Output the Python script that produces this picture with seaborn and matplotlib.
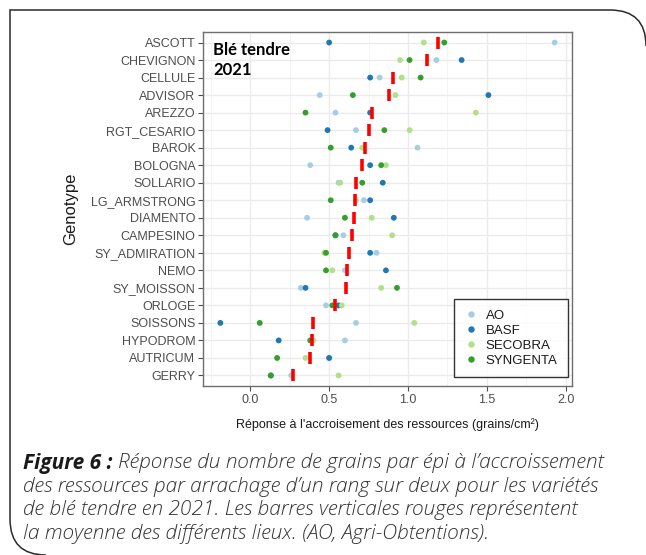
import numpy as np
import pandas as pd
import seaborn as sns
import matplotlib.pyplot as plt
from matplotlib.lines import Line2D
from matplotlib.path import Path
from matplotlib.patches import PathPatch

genotypes = ['ASCOTT', 'CHEVIGNON', 'CELLULE', 'ADVISOR', 'AREZZO', 'RGT_CESARIO',
             'BAROK', 'BOLOGNA', 'SOLLARIO', 'LG_ARMSTRONG', 'DIAMENTO', 'CAMPESINO',
             'SY_ADMIRATION', 'NEMO', 'SY_MOISSON', 'ORLOGE', 'SOISSONS', 'HYPODROM',
             'AUTRICUM', 'GERRY']
ao = [1.93, 1.18, 0.82, 0.44, 0.54, 0.67, 1.06, 0.38, 0.56, 0.72,
      0.36, 0.59, 0.80, 0.60, 0.32, 0.48, 0.67, 0.60, 0.50, 0.26]
basf = [0.50, 1.34, 0.76, 1.51, 0.76, 0.49, 0.64, 0.76, 0.84, 0.76,
        0.91, 0.54, 0.76, 0.86, 0.35, 0.56, -0.19, 0.18, 0.50, 0.13]
secobra = [1.10, 0.95, 0.96, 0.92, 1.43, 1.01, 0.71, 0.86, 0.57, 0.67,
           0.77, 0.90, 0.47, 0.52, 0.83, 0.58, 1.04, 0.40, 0.35, 0.56]
syngenta = [1.23, 1.01, 1.08, 0.65, 0.35, 0.85, 0.51, 0.83, 0.71, 0.51,
            0.60, 0.54, 0.48, 0.48, 0.93, 0.52, 0.06, 0.38, 0.17, 0.13]
sources = ['AO', 'BASF', 'SECOBRA', 'SYNGENTA']
colors = ['#a6cee3', '#1f78b4', '#b2df8a', '#33a02c']

rows = []
for src, vals in zip(sources, [ao, basf, secobra, syngenta]):
    for g, v in zip(genotypes, vals):
        rows.append((g, src, v))
df = pd.DataFrame(rows, columns=['Genotype', 'source', 'value'])

sns.set_style('white')
plt.rcParams['font.family'] = ['Liberation Sans', 'DejaVu Sans']

fig = plt.figure(figsize=(6.46, 5.55), dpi=100)
ax = fig.add_axes([203/646, 1-386/555, 369/646, 354/555])

sns.stripplot(data=df, x='value', y='Genotype', hue='source', order=genotypes,
              hue_order=sources, palette=colors, jitter=False, size=4.2,
              linewidth=0, legend=False, ax=ax, zorder=2)
sns.pointplot(data=df, x='value', y='Genotype', order=genotypes, estimator='mean',
              errorbar=None, linestyle='none', marker='|', color='red',
              markersize=9, markeredgewidth=2.6, ax=ax, zorder=4)

ax.set_xlim(-0.30, 2.04)
ax.set_ylim(len(genotypes) - 0.4, -0.6)
ax.set_xticks([0, 0.5, 1.0, 1.5, 2.0])
ax.set_xticklabels(['0.0', '0.5', '1.0', '1.5', '2.0'])
ax.set_xticks([-0.25, 0.25, 0.75, 1.25, 1.75], minor=True)
ax.grid(True, which='major', color='#ebebeb', lw=1.0)
ax.grid(True, which='minor', axis='x', color='#f2f2f2', lw=0.6)
ax.set_axisbelow(True)
for s in ax.spines.values():
    s.set_color('#6e6e6e')
    s.set_linewidth(1.0)
ax.tick_params(axis='both', which='major', length=3.5, width=0.8, color='#4d4d4d',
               labelcolor='#4d4d4d', labelsize=9, pad=2, left=True, bottom=True)
ax.tick_params(axis='x', which='minor', length=0)

ax.set_xlabel("Réponse à l'accroisement des ressources (grains/cm²)", fontsize=9,
              color='#1a1a1a')
ax.set_ylabel('Genotype', fontsize=12, color='#1a1a1a')
ax.yaxis.set_label_coords(-0.339, 0.5)
ax.xaxis.set_label_coords(0.5, -0.092)

ax.text(0.027, 0.972, 'Blé tendre\n2021', transform=ax.transAxes, ha='left', va='top',
        fontsize=12, fontweight='bold', family=['Lato', 'DejaVu Sans'],
        linespacing=1.3, color='black')

handles = [Line2D([], [], marker='o', ls='none', color=c, markersize=3.6) for c in colors]
leg = ax.legend(handles, sources, loc='lower right', bbox_to_anchor=(0.989, 0.025),
                borderaxespad=0, frameon=True, fancybox=False, edgecolor='black',
                fontsize=9.5, labelspacing=0.2, handlelength=1.0, handletextpad=0.6,
                borderpad=0.8)
leg.get_frame().set_linewidth(1.0)
for t in leg.get_texts():
    t.set_color('#1a1a1a')

# page frame with rounded corners
W, H = 646, 555
r = 36
verts = [(W, H - 10 - r), (W, H - 10), (W - r, H - 10), (10, H - 10),
         (10, r), (10, 0), (10 + r, 0)]
codes = [Path.MOVETO, Path.CURVE3, Path.CURVE3, Path.LINETO,
         Path.LINETO, Path.CURVE3, Path.CURVE3]
verts = [(x / W, y / H) for x, y in verts]
fig.patches.append(PathPatch(Path(verts, codes), transform=fig.transFigure,
                             fill=False, edgecolor='#2b2b2b', lw=1.1))

cap_font = ['Open Sans', 'DejaVu Sans']
cap_size = 15.0
x0 = 23 / W
t1 = fig.text(x0, 1 - 463 / H, 'Figure 6 :', fontsize=cap_size, fontweight='bold',
              style='italic', family=cap_font, color='#1a1a1a', va='center')
fig.canvas.draw()
bb = t1.get_window_extent()
fig.text(bb.x1 / W + 5 / W, 1 - 463 / H,
         "Réponse du nombre de grains par épi à l’accroissement",
         fontsize=cap_size, style='italic', fontweight='light', family=cap_font,
         color='#333333', va='center')
lines = ["des ressources par arrachage d’un rang sur deux pour les variétés",
         "de blé tendre en 2021. Les barres verticales rouges représentent",
         "la moyenne des différents lieux. (AO, Agri-Obtentions)."]
for i, ln in enumerate(lines):
    fig.text(x0, 1 - (487 + 23.5 * i) / H, ln, fontsize=cap_size, style='italic',
             fontweight='light', family=cap_font, color='#333333', va='center')

fig.savefig('out.png', dpi=100)
